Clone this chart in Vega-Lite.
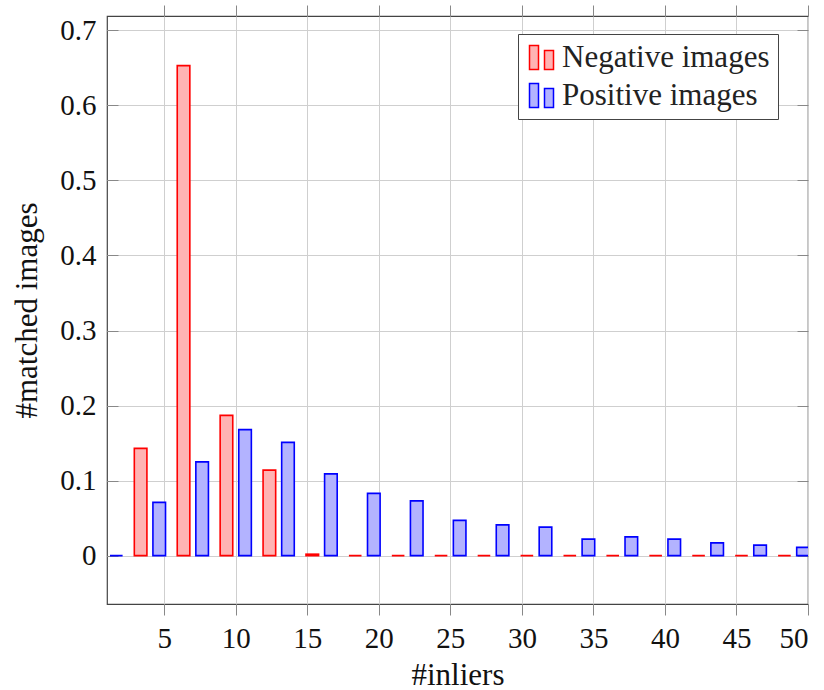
{
  "$schema": "https://vega.github.io/schema/vega-lite/v6.json",
  "autosize": "none",
  "padding": {"left": 107, "top": 16, "right": 16, "bottom": 86},
  "width": 701,
  "height": 588,
  "background": "white",
  "config": {
    "font": "Liberation Serif",
    "view": {"stroke": "#444", "strokeWidth": 1.2},
    "axis": {
      "labelFont": "Liberation Serif",
      "titleFont": "Liberation Serif",
      "labelFontSize": 29,
      "titleFontSize": 31,
      "titleFontWeight": "normal",
      "labelColor": "#111",
      "titleColor": "#111",
      "gridColor": "#cfcfcf",
      "gridWidth": 1,
      "tickColor": "#888",
      "tickWidth": 1,
      "domain": false
    },
    "legend": {
      "labelFont": "Liberation Serif",
      "labelFontSize": 31,
      "labelColor": "#222",
      "labelLimit": 500
    }
  },
  "data": {
    "values": [
      {"inliers": 1, "series": "Negative images", "value": 0},
      {"inliers": 4, "series": "Negative images", "value": 0.143},
      {"inliers": 7, "series": "Negative images", "value": 0.653},
      {"inliers": 10, "series": "Negative images", "value": 0.187},
      {"inliers": 13, "series": "Negative images", "value": 0.114},
      {"inliers": 16, "series": "Negative images", "value": 0.002},
      {"inliers": 19, "series": "Negative images", "value": 0},
      {"inliers": 22, "series": "Negative images", "value": 0},
      {"inliers": 25, "series": "Negative images", "value": 0},
      {"inliers": 28, "series": "Negative images", "value": 0},
      {"inliers": 31, "series": "Negative images", "value": 0},
      {"inliers": 34, "series": "Negative images", "value": 0},
      {"inliers": 37, "series": "Negative images", "value": 0},
      {"inliers": 40, "series": "Negative images", "value": 0},
      {"inliers": 43, "series": "Negative images", "value": 0},
      {"inliers": 46, "series": "Negative images", "value": 0},
      {"inliers": 49, "series": "Negative images", "value": 0},
      {"inliers": 1, "series": "Positive images", "value": 0},
      {"inliers": 4, "series": "Positive images", "value": 0.071},
      {"inliers": 7, "series": "Positive images", "value": 0.125},
      {"inliers": 10, "series": "Positive images", "value": 0.168},
      {"inliers": 13, "series": "Positive images", "value": 0.151},
      {"inliers": 16, "series": "Positive images", "value": 0.109},
      {"inliers": 19, "series": "Positive images", "value": 0.083},
      {"inliers": 22, "series": "Positive images", "value": 0.073},
      {"inliers": 25, "series": "Positive images", "value": 0.047},
      {"inliers": 28, "series": "Positive images", "value": 0.041},
      {"inliers": 31, "series": "Positive images", "value": 0.038},
      {"inliers": 34, "series": "Positive images", "value": 0.022},
      {"inliers": 37, "series": "Positive images", "value": 0.025},
      {"inliers": 40, "series": "Positive images", "value": 0.022},
      {"inliers": 43, "series": "Positive images", "value": 0.017},
      {"inliers": 46, "series": "Positive images", "value": 0.014},
      {"inliers": 49, "series": "Positive images", "value": 0.011}
    ]
  },
  "layer": [
    {
      "transform": [{"filter": "datum.series === 'Negative images'"}],
      "mark": {"type": "bar", "width": 12.6, "xOffset": -9.3, "strokeWidth": 1.6, "clip": true, "fillOpacity": 1},
      "encoding": {
        "x": {
          "field": "inliers", "type": "quantitative",
          "scale": {"domain": [1, 50], "nice": false, "zero": false, "padding": 0},
          "axis": {"orient": "bottom", "values": [5, 10, 15, 20, 25, 30, 35, 40, 45, 50], "grid": true, "tickSize": 11, "labelPadding": 9, "title": "#inliers", "titleY": 80, "titleBaseline": "alphabetic"}
        },
        "y": {
          "field": "value", "type": "quantitative",
          "scale": {"domain": [-0.0644, 0.7191], "nice": false, "zero": false},
          "axis": {"orient": "left", "values": [0, 0.1, 0.2, 0.3, 0.4, 0.5, 0.6, 0.7], "format": ".1~f", "grid": true, "tickSize": -11, "labelPadding": 22, "title": "#matched images", "titleX": -80, "titleBaseline": "middle"}
        },
        "y2": {"datum": 0},
        "fill": {
          "field": "series", "type": "nominal",
          "scale": {"domain": ["Negative images", "Positive images"], "range": ["#ffb3b3", "#b3b3ff"]},
          "legend": {
            "title": null, "orient": "none", "legendX": 411, "legendY": 18,
            "strokeColor": "#444", "fillColor": "white", "padding": 8,
            "symbolType": "M-1,-1H-0.25V1H-1Z M0.25,-0.58H1V1H0.25Z",
            "symbolSize": 576, "symbolStrokeWidth": 1.5, "labelOffset": 5, "rowPadding": 6
          }
        },
        "stroke": {
          "field": "series", "type": "nominal",
          "scale": {"domain": ["Negative images", "Positive images"], "range": ["#ff0000", "#0000ff"]},
          "legend": {
            "title": null, "orient": "none", "legendX": 411, "legendY": 18,
            "strokeColor": "#444", "fillColor": "white", "padding": 8,
            "symbolType": "M-1,-1H-0.25V1H-1Z M0.25,-0.58H1V1H0.25Z",
            "symbolSize": 576, "symbolStrokeWidth": 1.5, "labelOffset": 5, "rowPadding": 6
          }
        }
      }
    },
    {
      "transform": [{"filter": "datum.series === 'Positive images'"}],
      "mark": {"type": "bar", "width": 12.6, "xOffset": 9.3, "strokeWidth": 1.6, "clip": true, "fillOpacity": 1},
      "encoding": {
        "x": {
          "field": "inliers", "type": "quantitative",
          "scale": {"domain": [1, 50], "nice": false, "zero": false, "padding": 0},
          "axis": {"orient": "top", "values": [5, 10, 15, 20, 25, 30, 35, 40, 45, 50], "grid": false, "labels": false, "tickSize": 11, "title": null}
        },
        "y": {
          "field": "value", "type": "quantitative",
          "scale": {"domain": [-0.0644, 0.7191], "nice": false, "zero": false},
          "axis": {"orient": "right", "values": [0, 0.1, 0.2, 0.3, 0.4, 0.5, 0.6, 0.7], "grid": false, "labels": false, "tickSize": -11, "title": null}
        },
        "y2": {"datum": 0},
        "fill": {"field": "series", "type": "nominal"},
        "stroke": {"field": "series", "type": "nominal"}
      }
    }
  ],
  "resolve": {"axis": {"x": "independent", "y": "independent"}}
}
